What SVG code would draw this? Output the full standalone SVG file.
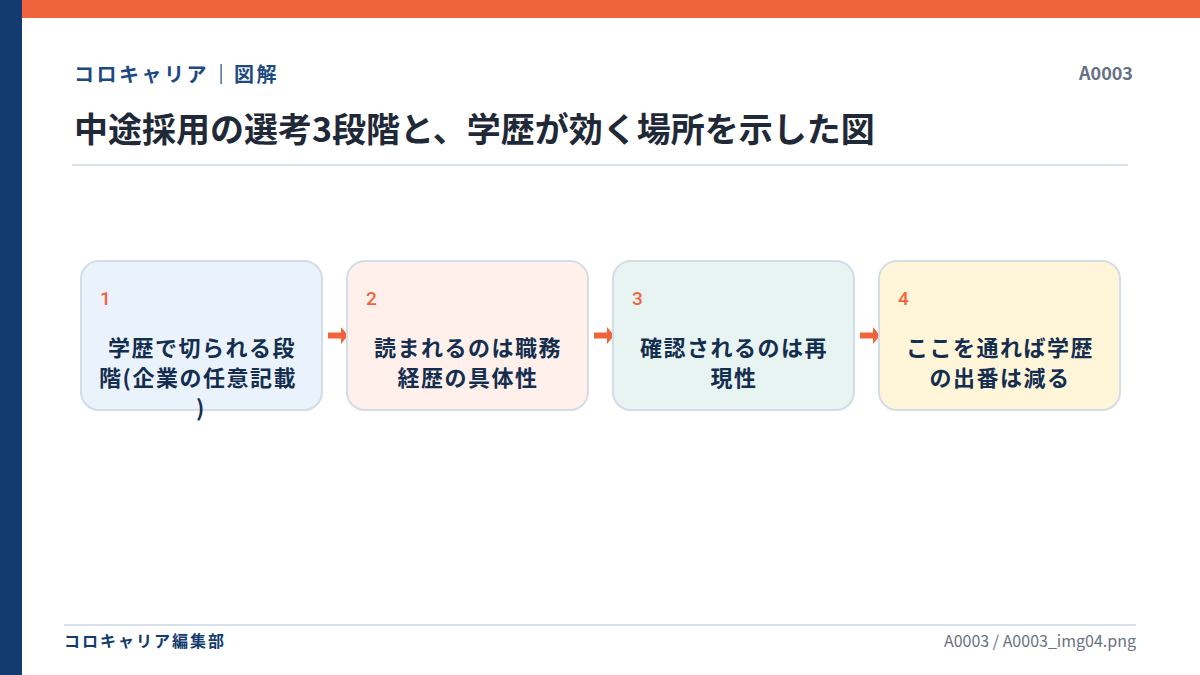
<svg xmlns="http://www.w3.org/2000/svg" width="1200" height="675" viewBox="0 0 1200 675">
<style>
text{font-family:"Noto Sans CJK JP","Noto Sans",sans-serif;}
.hdr{font-size:20px;font-weight:700;fill:#1c4a80;letter-spacing:2.5px;}
.title{font-size:34px;font-weight:700;fill:#1f2937;}
.box{stroke:#d3dde8;stroke-width:2;}
.num{font-family:Roboto,"Noto Sans",sans-serif;font-size:19px;font-weight:500;fill:#f0643c;}
.lbl{font-size:22px;font-weight:700;fill:#142e4f;text-anchor:middle;letter-spacing:1.5px;}
.arr{fill:#f0643c;}
</style>
<rect x="0" y="0" width="1200" height="675" fill="#ffffff"/>
<rect x="22" y="0" width="1178" height="18" fill="#f0643c"/>
<rect x="0" y="0" width="22" height="675" fill="#133b6f"/>

<g id="header">
<text class="hdr" x="74" y="82">コロキャリア</text>
<rect x="220.5" y="64" width="1.2" height="20" fill="#1c4a80"/>
<text class="hdr" x="234" y="82">図解</text>
<text x="1133" y="80" text-anchor="end" font-family="Roboto,'Noto Sans',sans-serif" font-size="18" font-weight="700" fill="#667085">A0003</text>
<text class="title" x="74" y="142">中途採用の選考3段階と、学歴が効く場所を示した図</text>
<rect x="72" y="164" width="1056" height="2" fill="#d8e2ec"/>
</g>

<g id="connectors">
<path class="arr" d="M328 332.5H341V327L348 335.5L341 344V338.5H328Z"/>
<path class="arr" d="M594 332.5H607V327L614 335.5L607 344V338.5H594Z"/>
<path class="arr" d="M860 332.5H873V327L880 335.5L873 344V338.5H860Z"/>
</g>

<g id="node1">
<rect class="box" x="81" y="261" width="241" height="149" rx="18" fill="#eaf2fb"/>
<text class="num" x="100" y="305">1</text>
<text class="lbl" x="202" y="356">学歴で切られる段</text>
<text class="lbl" x="198" y="386">階(企業の任意記載</text>
<text class="lbl" x="201" y="416">)</text>
</g>
<g id="node2">
<rect class="box" x="347" y="261" width="241" height="149" rx="18" fill="#fff0eb"/>
<text class="num" x="366" y="305">2</text>
<text class="lbl" x="468" y="356">読まれるのは職務</text>
<text class="lbl" x="468" y="386">経歴の具体性</text>
</g>
<g id="node3">
<rect class="box" x="613" y="261" width="241" height="149" rx="18" fill="#e8f4f1"/>
<text class="num" x="632" y="305">3</text>
<text class="lbl" x="734" y="356">確認されるのは再</text>
<text class="lbl" x="734" y="386">現性</text>
</g>
<g id="node4">
<rect class="box" x="879" y="261" width="241" height="149" rx="18" fill="#fff5d9"/>
<text class="num" x="898" y="305">4</text>
<text class="lbl" x="1000" y="356">ここを通れば学歴</text>
<text class="lbl" x="1000" y="386">の出番は減る</text>
</g>

<g id="footer">
<rect x="64" y="624" width="1072" height="2" fill="#d8e2ec"/>
<text x="64" y="647" font-size="16" font-weight="700" fill="#133b6f" letter-spacing="2">コロキャリア編集部</text>
<text x="1136" y="647" text-anchor="end" font-family="Roboto,'Noto Sans',sans-serif" font-size="16" fill="#6b7280">A0003 / A0003_img04.png</text>
</g>
</svg>
